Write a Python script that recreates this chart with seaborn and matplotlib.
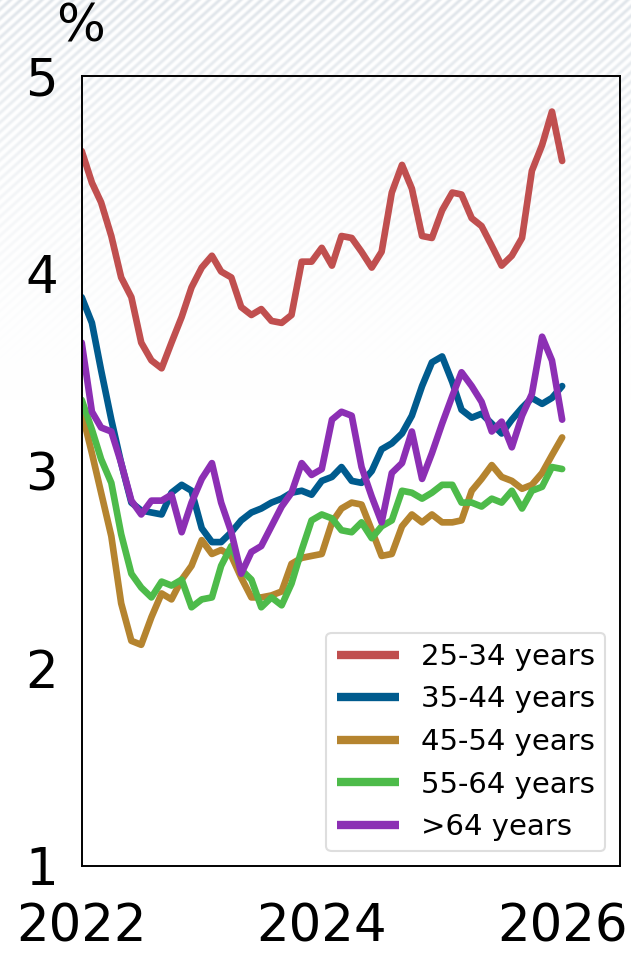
import matplotlib
matplotlib.use("Agg")
import matplotlib.pyplot as plt
import matplotlib.dates as mdates
import numpy as np
import pandas as pd
import seaborn as sns

# monthly unemployment rate by age group, Jan 2022 .. Jan 2026
months = pd.date_range("2022-01-01", periods=49, freq="MS")

age_25_34 = [4.62, 4.46, 4.36, 4.19, 3.98, 3.88, 3.65, 3.56, 3.52, 3.65,
             3.78, 3.93, 4.03, 4.09, 4.01, 3.98, 3.83, 3.79, 3.82, 3.76,
             3.75, 3.79, 4.06, 4.06, 4.13, 4.04, 4.19, 4.18, 4.11, 4.03,
             4.11, 4.41, 4.55, 4.43, 4.19, 4.18, 4.32, 4.41, 4.40, 4.28,
             4.24, 4.14, 4.04, 4.09, 4.18, 4.52, 4.65, 4.82, 4.57]
age_35_44 = [3.88, 3.75, 3.51, 3.26, 3.04, 2.84, 2.80, 2.79, 2.78, 2.89,
             2.93, 2.90, 2.71, 2.64, 2.64, 2.69, 2.75, 2.79, 2.81, 2.84,
             2.86, 2.89, 2.90, 2.88, 2.95, 2.97, 3.02, 2.95, 2.94, 3.00,
             3.11, 3.14, 3.19, 3.28, 3.43, 3.55, 3.58, 3.45, 3.31, 3.27,
             3.29, 3.24, 3.19, 3.26, 3.32, 3.37, 3.34, 3.37, 3.43]
age_45_54 = [3.30, 3.09, 2.89, 2.67, 2.33, 2.14, 2.12, 2.26, 2.38, 2.35,
             2.45, 2.52, 2.65, 2.58, 2.60, 2.57, 2.46, 2.36, 2.36, 2.37,
             2.39, 2.53, 2.56, 2.57, 2.58, 2.74, 2.81, 2.84, 2.83, 2.70,
             2.57, 2.58, 2.72, 2.78, 2.74, 2.78, 2.74, 2.74, 2.75, 2.90,
             2.96, 3.03, 2.97, 2.95, 2.91, 2.93, 2.99, 3.08, 3.17]
age_55_64 = [3.36, 3.21, 3.06, 2.94, 2.68, 2.48, 2.41, 2.36, 2.44, 2.42,
             2.45, 2.31, 2.35, 2.36, 2.52, 2.62, 2.50, 2.45, 2.31, 2.36,
             2.32, 2.43, 2.60, 2.75, 2.78, 2.76, 2.70, 2.69, 2.74, 2.66,
             2.72, 2.75, 2.90, 2.89, 2.86, 2.89, 2.93, 2.93, 2.84, 2.84,
             2.82, 2.86, 2.84, 2.90, 2.81, 2.90, 2.92, 3.02, 3.01]
age_65_up = [3.65, 3.30, 3.22, 3.20, 3.04, 2.85, 2.78, 2.85, 2.85, 2.88,
             2.69, 2.84, 2.96, 3.04, 2.84, 2.69, 2.48, 2.59, 2.62, 2.72,
             2.82, 2.89, 3.04, 2.98, 3.01, 3.26, 3.30, 3.28, 3.02, 2.87,
             2.74, 2.99, 3.04, 3.20, 2.96, 3.09, 3.24, 3.38, 3.50, 3.43,
             3.35, 3.20, 3.25, 3.12, 3.28, 3.39, 3.68, 3.56, 3.26]

series_names = ["25-34 years", "35-44 years", "45-54 years", "55-64 years", ">64 years"]
series_values = [age_25_34, age_35_44, age_45_54, age_55_64, age_65_up]
series_colors = ["#c04f4f", "#005b8e", "#b5842f", "#4dbb4a", "#8c2fb4"]

sns.set_style("white")
plt.rcParams["font.family"] = ["DejaVu Sans"]
plt.rcParams["text.color"] = "black"

W, H = 631, 955
fig = plt.figure(figsize=(W / 100, H / 100), dpi=100)
fig.patch.set_facecolor("white")

# faint diagonal stripes in the backdrop, fading out further down
yy, xx = np.mgrid[0:H, 0:W].astype(float)
theta = np.deg2rad(42)
dist = xx * np.sin(theta) + yy * np.cos(theta)
stripe = (0.5 + 0.5 * np.cos(2 * np.pi * dist / 7.0)) ** 1.3
fade = np.clip(1 - yy / 400, 0, 1) ** 1.4
line_rgb = np.array([0.88, 0.90, 0.92])
bg_img = np.clip(1 - (fade * stripe)[..., None] * (1 - line_rgb), 0, 1)

bg = fig.add_axes([0, 0, 1, 1], zorder=-5)
bg.imshow(bg_img, extent=[0, W, H, 0], aspect="auto", interpolation="bilinear")
bg.set_xlim(0, W)
bg.set_ylim(H, 0)
bg.axis("off")

ax = fig.add_axes([0.1295, 0.0932, 0.8531, 0.8272])
ax.set_facecolor("none")

for name, vals, col in zip(series_names, series_values, series_colors):
    sns.lineplot(x=months, y=vals, ax=ax, color=col, lw=4.8, label=name)

ax.set_xlim(pd.Timestamp("2022-01-01"), pd.Timestamp("2026-06-26"))
ax.set_ylim(1, 5)
ax.set_yticks([1, 2, 3, 4, 5])
ax.xaxis.set_major_locator(mdates.YearLocator(2))
ax.xaxis.set_major_formatter(mdates.DateFormatter("%Y"))
ax.set_xlabel("")
ax.set_ylabel("")

ax.tick_params(axis="both", direction="in", length=7, width=1.2, labelsize=37,
               colors="black")
ax.tick_params(axis="y", pad=17)
ax.tick_params(axis="x", pad=26)
for sp in ax.spines.values():
    sp.set_visible(True)
    sp.set_color("black")
    sp.set_linewidth(1.4)

leg = ax.legend(loc="lower right", fontsize=21, handlelength=2.15,
                labelspacing=0.5, handletextpad=0.75, borderpad=0.35,
                frameon=True, fancybox=True)
leg.get_frame().set_edgecolor("#d6d6d6")
leg.get_frame().set_linewidth(1.5)
for ln in leg.get_lines():
    ln.set_linewidth(6)
    ln.set_solid_capstyle("butt")
for t in leg.get_texts():
    t.set_color("black")

fig.text(81 / W, 1 - 27 / H, "%", fontsize=37, ha="center", va="center")

fig.savefig("out.png", dpi=100)
